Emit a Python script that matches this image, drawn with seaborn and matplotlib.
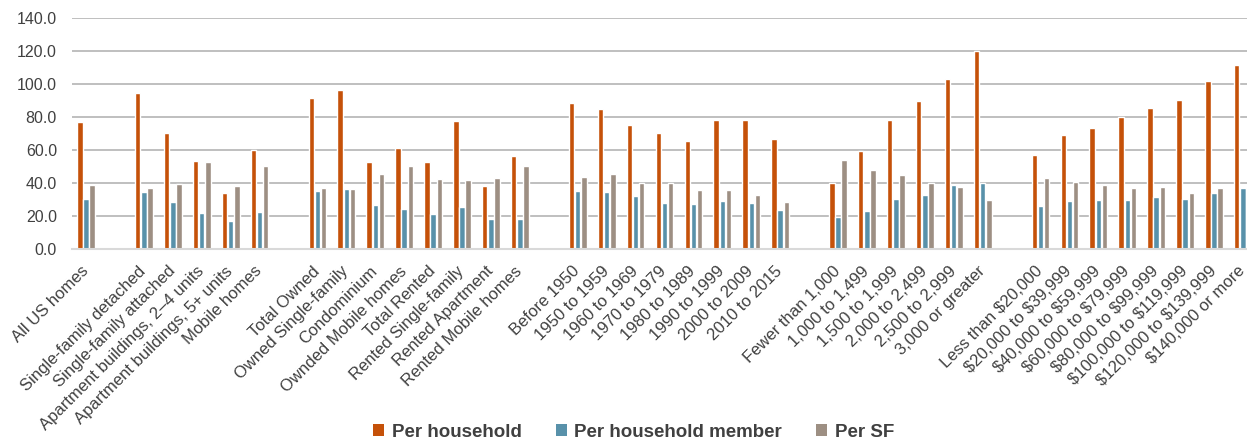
import numpy as np
import pandas as pd
import matplotlib
matplotlib.use("Agg")
import matplotlib.pyplot as plt
import matplotlib.transforms as mtransforms
import seaborn as sns
from matplotlib.patches import Patch

categories = [
    "All US homes",
    "Single-family detached", "Single-family attached", "Apartment buildings, 2–4 units",
    "Apartment buildings, 5+ units", "Mobile homes",
    "Total Owned", "Owned Single-family", "Condominium", "Ownded Mobile homes",
    "Total Rented", "Rented Single-family", "Rented Apartment", "Rented Mobile homes",
    "Before 1950", "1950 to 1959", "1960 to 1969", "1970 to 1979", "1980 to 1989",
    "1990 to 1999", "2000 to 2009", "2010 to 2015",
    "Fewer than 1,000", "1,000 to 1,499", "1,500 to 1,999", "2,000 to 2,499",
    "2,500 to 2,999", "3,000 or greater",
    "Less than $20,000", "$20,000 to $39,999", "$40,000 to $59,999", "$60,000 to $79,999",
    "$80,000 to $99,999", "$100,000 to $119,999", "$120,000 to $139,999", "$140,000 or more",
]
group_sizes = [1, 5, 8, 8, 6, 8]

per_household = [
    76.8,
    94.6, 70.0, 53.2, 33.9, 59.7,
    91.3, 96.0, 52.4, 61.1, 52.4, 77.4, 38.3, 56.0,
    88.3, 84.5, 75.0, 70.2, 65.5, 78.2, 78.2, 66.7,
    39.9, 59.1, 77.8, 89.7, 102.8, 119.8,
    56.9, 68.8, 73.2, 79.8, 85.3, 90.1, 101.6, 111.1,
]
per_member = [
    30.2,
    34.3, 28.4, 21.8, 16.9, 22.4,
    35.1, 36.3, 26.4, 24.4, 21.2, 25.2, 17.9, 18.1,
    35.1, 34.3, 31.9, 27.8, 27.0, 29.0, 27.8, 23.6,
    19.5, 23.0, 30.2, 32.7, 38.5, 39.9,
    25.8, 29.0, 29.6, 29.6, 31.5, 30.2, 33.7, 36.7,
]
per_sf = [
    38.5,
    36.9, 39.1, 52.4, 38.3, 50.0,
    36.7, 36.3, 45.4, 50.0, 42.5, 41.7, 42.9, 50.0,
    43.8, 45.2, 39.7, 39.7, 35.7, 35.7, 32.7, 28.2,
    53.6, 47.8, 44.8, 39.9, 37.5, 29.4,
    42.9, 40.5, 38.5, 36.9, 37.3, 33.9, 36.9, 37.0,
]
series_names = ["Per household", "Per household member", "Per SF"]
colors = ["#C55109", "#5891AA", "#9D8F83"]

# category order with blank slots between groups
order = []
labels = []
idx = 0
for g, n in enumerate(group_sizes):
    for _ in range(n):
        order.append(categories[idx])
        labels.append(categories[idx])
        idx += 1
    if g < len(group_sizes) - 1:
        order.append(" " * (g + 1))
        labels.append("")

df = pd.DataFrame({
    "category": categories * 3,
    "series": np.repeat(series_names, len(categories)),
    "value": per_household + per_member + per_sf,
})

sns.set_theme(style="white")
plt.rcParams["font.family"] = ["Liberation Sans", "DejaVu Sans"]
plt.rcParams["text.parse_math"] = False

W, H = 1247, 441
fig = plt.figure(figsize=(W / 100, H / 100), dpi=100)
ax = fig.add_axes([72 / W, (H - 249) / H, 1 - 72 / W, (249 - 17.5) / H])

sns.barplot(data=df, x="category", y="value", hue="series", order=order,
            hue_order=series_names, palette=colors, width=0.64, gap=0.12,
            errorbar=None, ax=ax, saturation=1, legend=True)

ax.set_xlim(-0.485, len(order) - 1 + 0.14)
ax.set_ylim(0, 140)
ax.set_yticks(np.arange(0, 141, 20))
ax.set_yticklabels([f"{v:.1f}" for v in np.arange(0, 141, 20)], fontsize=11.5, color="#404040")
ax.set_xticks(range(len(order)))
ax.set_xticklabels(labels, rotation=45, ha="right", va="baseline", rotation_mode="anchor",
                   fontsize=12, color="#404040")
ax.tick_params(axis="x", length=0, pad=16.5)
ax.tick_params(axis="y", length=0, pad=10.8)
offset = mtransforms.ScaledTranslation(3 / 100, 0, fig.dpi_scale_trans)
for lbl in ax.get_xticklabels():
    lbl.set_transform(lbl.get_transform() + offset)
ax.set_xlabel("")
ax.set_ylabel("")

ax.yaxis.grid(True, color="#BFBFBF", linewidth=1.4)
ax.set_axisbelow(True)
for s in ["top", "right", "left"]:
    ax.spines[s].set_visible(False)
ax.spines["bottom"].set_color("#D9D9D9")
ax.spines["bottom"].set_linewidth(1.5)

ax.get_legend().remove()
handles = [Patch(facecolor=c, edgecolor="none") for c in colors]
leg = fig.legend(handles, series_names, loc="center", bbox_to_anchor=(0.508, 0.02),
                 ncol=3, frameon=False, prop={"weight": "bold", "size": 13.5},
                 handlelength=0.6, handleheight=0.6, handletextpad=0.4,
                 columnspacing=1.8)
for t in leg.get_texts():
    t.set_color("#404040")

fig.savefig("out.png", dpi=100)
